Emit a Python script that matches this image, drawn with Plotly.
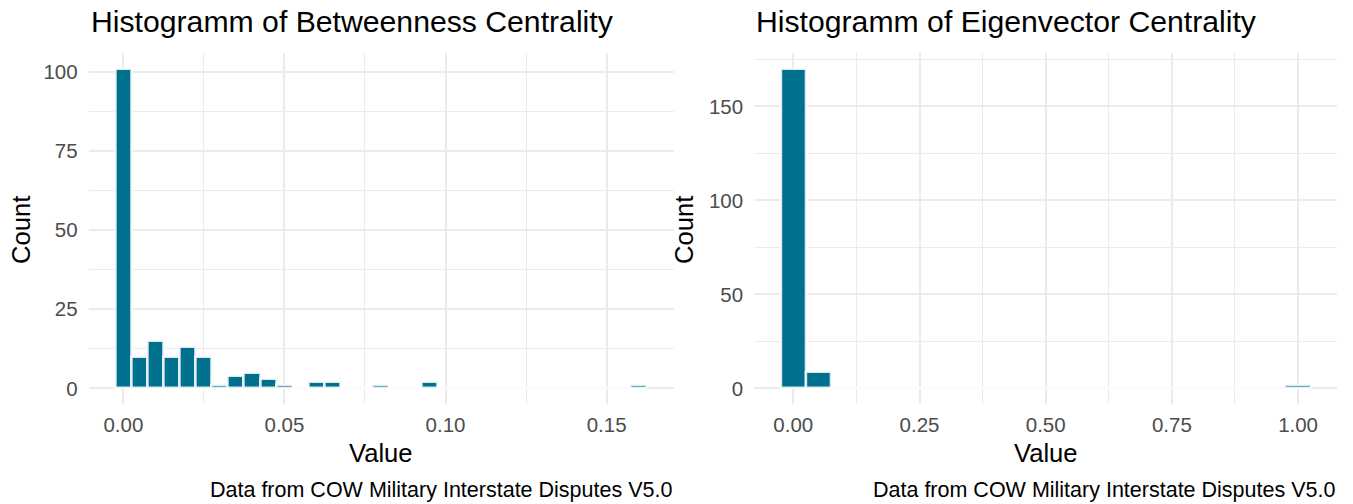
import plotly.graph_objects as go

W, H = 1353, 504

# ---- data ----
betw_binwidth = 0.005
betw_centers = [round(i * 0.005, 3) for i in range(33)]
betw_counts = [101, 10, 15, 10, 13, 10, 1, 4, 5, 3, 1, 0, 2, 2, 0, 0, 1, 0, 0, 2,
               0, 0, 0, 0, 0, 0, 0, 0, 0, 0, 0, 0, 1]
eig_binwidth = 0.05
eig_centers = [round(i * 0.05, 2) for i in range(21)]
eig_counts = [170, 9, 0, 0, 0, 0, 0, 0, 0, 0, 0, 0, 0, 0, 0, 0, 0, 0, 0, 0, 2]

betw_xticks = [0.0, 0.05, 0.10, 0.15]
betw_xticklabels = ["0.00", "0.05", "0.10", "0.15"]
betw_xminor = [0.025, 0.075, 0.125]
betw_yticks = [0, 25, 50, 75, 100]
betw_yminor = [12.5, 37.5, 62.5, 87.5]

eig_xticks = [0.0, 0.25, 0.50, 0.75, 1.00]
eig_xticklabels = ["0.00", "0.25", "0.50", "0.75", "1.00"]
eig_xminor = [0.125, 0.375, 0.625, 0.875]
eig_yticks = [0, 50, 100, 150]
eig_yminor = [25, 75, 125, 175]

titles = ["Histogramm of Betweenness Centrality", "Histogramm of Eigenvector Centrality"]
caption = "Data from COW Military Interstate Disputes V5.0"
xlab, ylab = "Value", "Count"

BAR = "#00708F"
GRID = "#EBEBEB"
FONT = "Liberation Sans, Arial, sans-serif"
TICK = 20.5
CAP = 21.5
AXT = 25.6
TIT = 30.2


def px(x):
    return x / W


def py(y):
    return 1 - y / H


def expand(lo, hi, f=0.05):
    d = (hi - lo) * f
    return [lo - d, hi + d]


fig = go.Figure()
fig.add_trace(go.Bar(x=betw_centers, y=betw_counts, width=betw_binwidth,
                     marker=dict(color=BAR, line=dict(color="rgba(255,255,255,0.85)", width=2.5)),
                     xaxis="x", yaxis="y", showlegend=False, hoverinfo="skip"))
fig.add_trace(go.Bar(x=eig_centers, y=eig_counts, width=eig_binwidth,
                     marker=dict(color=BAR, line=dict(color="rgba(255,255,255,0.85)", width=2.5)),
                     xaxis="x2", yaxis="y2", showlegend=False, hoverinfo="skip"))

panels = [
    dict(x0=88.7, x1=673.5),
    dict(x0=754.2, x1=1337.2),
]
ytop, ybot = 52.9, 404.3

common_x = dict(showline=False, zeroline=False, ticks="outside", ticklen=2,
                tickcolor="rgba(0,0,0,0)", gridcolor=GRID, gridwidth=1.8,
                tickfont=dict(family=FONT, size=TICK, color="#4D4D4D"))
common_y = dict(showline=False, zeroline=False, ticks="outside", ticklen=6,
                tickcolor="rgba(0,0,0,0)", gridcolor=GRID, gridwidth=1.8,
                tickfont=dict(family=FONT, size=TICK, color="#4D4D4D"))

bx_range = expand(betw_centers[0] - betw_binwidth / 2, betw_centers[-1] + betw_binwidth / 2)
ex_range = expand(eig_centers[0] - eig_binwidth / 2, eig_centers[-1] + eig_binwidth / 2)
by_range = expand(0, max(betw_counts))
ey_range = expand(0, max(eig_counts))

fig.update_layout(
    width=W, height=H,
    margin=dict(l=0, r=0, t=0, b=0),
    paper_bgcolor="white", plot_bgcolor="white",
    bargap=0,
    font=dict(family=FONT),
    xaxis=dict(domain=[px(panels[0]["x0"]), px(panels[0]["x1"])], range=bx_range,
               tickvals=betw_xticks, ticktext=betw_xticklabels, anchor="y",
               minor=dict(tickvals=betw_xminor, showgrid=True, gridcolor=GRID, gridwidth=0.9),
               **common_x),
    yaxis=dict(domain=[py(ybot), py(ytop)], range=by_range, tickvals=betw_yticks, anchor="x",
               minor=dict(tickvals=betw_yminor, showgrid=True, gridcolor=GRID, gridwidth=0.9),
               **common_y),
    xaxis2=dict(domain=[px(panels[1]["x0"]), px(panels[1]["x1"])], range=ex_range,
                tickvals=eig_xticks, ticktext=eig_xticklabels, anchor="y2",
                minor=dict(tickvals=eig_xminor, showgrid=True, gridcolor=GRID, gridwidth=0.9),
                **common_x),
    yaxis2=dict(domain=[py(ybot), py(ytop)], range=ey_range, tickvals=eig_yticks, anchor="x2",
                minor=dict(tickvals=eig_yminor, showgrid=True, gridcolor=GRID, gridwidth=0.9),
                **common_y),
)

ann = []
ycount = [21, 684]
for i, p in enumerate(panels):
    ann.append(dict(text=titles[i], x=px(p["x0"]), y=py(22), xref="paper", yref="paper",
                    xanchor="left", yanchor="middle", showarrow=False,
                    font=dict(family=FONT, size=TIT, color="black")))
    ann.append(dict(text=xlab, x=px((p["x0"] + p["x1"]) / 2), y=py(453), xref="paper", yref="paper",
                    xanchor="center", yanchor="middle", showarrow=False,
                    font=dict(family=FONT, size=AXT, color="black")))
    ann.append(dict(text=ylab, x=px(ycount[i]), y=py(230), xref="paper", yref="paper",
                    xanchor="center", yanchor="middle", showarrow=False, textangle=-90,
                    font=dict(family=FONT, size=AXT, color="black")))
    ann.append(dict(text=caption, x=px(p["x1"]), y=py(490), xref="paper", yref="paper",
                    xanchor="right", yanchor="middle", showarrow=False,
                    font=dict(family=FONT, size=CAP, color="black")))
fig.update_layout(annotations=ann)

fig.write_html("out.html", config={"displayModeBar": False},
               post_script="document.body.style.margin='0';document.body.style.overflow='hidden';")
